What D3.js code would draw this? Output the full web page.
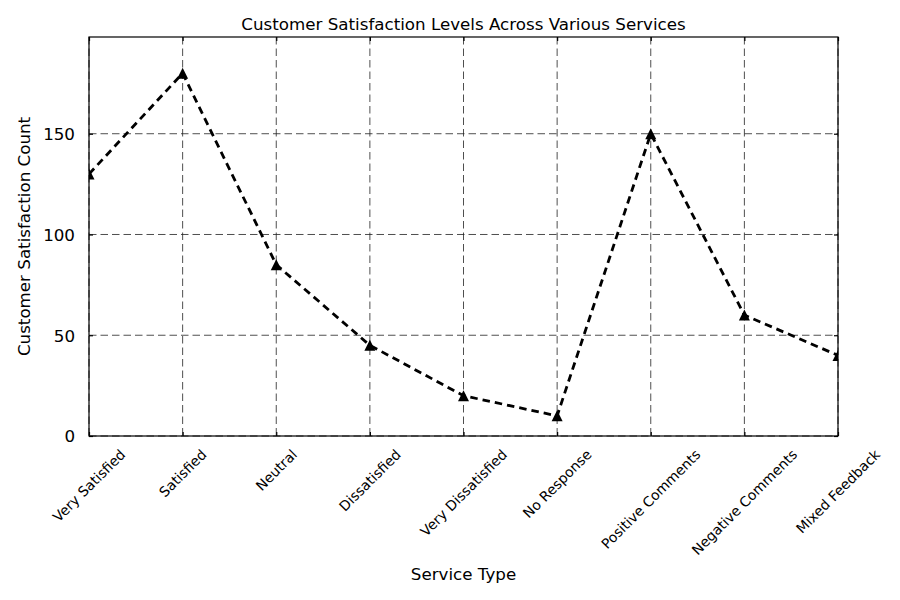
<!DOCTYPE html>
<html><head><meta charset="utf-8">
<script src="https://cdn.jsdelivr.net/npm/d3@7"></script>
<style>body{margin:0;background:#fff}svg{display:block}text{font-family:"DejaVu Sans",sans-serif;fill:#000}</style>
</head><body><svg id="c" width="900" height="600"></svg>
<script>
const categories = ["Very Satisfied","Satisfied","Neutral","Dissatisfied","Very Dissatisfied","No Response","Positive Comments","Negative Comments","Mixed Feedback"];
const counts = [130,180,85,45,20,10,150,60,40];
const yTicks = [0,50,100,150];
const yMax = 198;

const svg = d3.select("#c");
const m = {l:89, r:838, t:37, b:436};
const x = d3.scalePoint().domain(categories).range([m.l, m.r]).padding(0);
const y = d3.scaleLinear().domain([0, yMax]).range([m.b, m.t]);

svg.append("defs").append("clipPath").attr("id","clip")
  .append("rect").attr("x",m.l).attr("y",m.t).attr("width",m.r-m.l).attr("height",m.b-m.t);

// grid
const grid = svg.append("g").attr("stroke","#222").attr("stroke-width",0.8).attr("stroke-dasharray","7.5,4");
grid.selectAll(".gx").data(categories).join("line")
  .attr("x1",d=>x(d)).attr("x2",d=>x(d)).attr("y1",m.t).attr("y2",m.b);
grid.selectAll(".gy").data(yTicks).join("line")
  .attr("x1",m.l).attr("x2",m.r).attr("y1",d=>y(d)).attr("y2",d=>y(d));

// axes with inward ticks on all sides
const tl = 4;
const gL = svg.append("g").attr("transform",`translate(${m.l},0)`)
  .call(d3.axisLeft(y).tickValues(yTicks).tickSizeInner(-tl).tickSizeOuter(0).tickPadding(14));
const gR = svg.append("g").attr("transform",`translate(${m.r},0)`)
  .call(d3.axisRight(y).tickValues(yTicks).tickSizeInner(-tl).tickSizeOuter(0).tickFormat(""));
const gB = svg.append("g").attr("transform",`translate(0,${m.b})`)
  .call(d3.axisBottom(x).tickSizeInner(-tl).tickSizeOuter(0).tickFormat(""));
const gT = svg.append("g").attr("transform",`translate(0,${m.t})`)
  .call(d3.axisTop(x).tickSizeInner(-tl).tickSizeOuter(0).tickFormat(""));
[gL,gR,gB,gT].forEach(g=>{
  g.select(".domain").remove();
  g.selectAll(".tick line").attr("stroke","#000").attr("stroke-width",1.2);
});
gL.selectAll(".tick text").attr("font-size",16.7).attr("font-family","DejaVu Sans").attr("fill","#000").attr("dy","0.35em");

// frame
svg.append("rect").attr("x",m.l).attr("y",m.t).attr("width",m.r-m.l).attr("height",m.b-m.t)
  .attr("fill","none").attr("stroke","#000").attr("stroke-width",1.2);

// x tick labels, rotated 45, bbox centered on tick
const labG = svg.append("g");
const fs = 13.9;
categories.forEach(c=>{
  const t = labG.append("text").text(c).attr("font-size",fs).attr("text-anchor","middle").attr("dominant-baseline","central");
  const w = t.node().getComputedTextLength();
  const h = fs*1.0;
  const bh = (w+h)/Math.SQRT2;
  const cy = m.b + 11 + bh/2;
  t.attr("transform",`translate(${x(c)},${cy}) rotate(-45)`);
});

// line
const plot = svg.append("g").attr("clip-path","url(#clip)");
plot.append("path").datum(counts)
  .attr("fill","none").attr("stroke","#000").attr("stroke-width",2.8).attr("stroke-dasharray","7.5,5")
  .attr("d", d3.line().x((d,i)=>x(categories[i])).y(d=>y(d)));
const tri = {draw(ctx,size){const s=Math.sqrt(size)/2; ctx.moveTo(0,-s); ctx.lineTo(s,s); ctx.lineTo(-s,s); ctx.closePath();}};
plot.selectAll(".pt").data(counts).join("path")
  .attr("transform",(d,i)=>`translate(${x(categories[i])},${y(d)})`)
  .attr("d", d3.symbol().type(tri).size(121)).attr("fill","#000");

// titles
svg.append("text").attr("x",(m.l+m.r)/2).attr("y",30).attr("text-anchor","middle").attr("font-size",16.7).text("Customer Satisfaction Levels Across Various Services");
svg.append("text").attr("x",(m.l+m.r)/2).attr("y",580).attr("text-anchor","middle").attr("font-size",16.7).text("Service Type");
svg.append("text").attr("transform",`translate(30,${(m.t+m.b)/2}) rotate(-90)`).attr("text-anchor","middle").attr("font-size",16.7).text("Customer Satisfaction Count");
</script></body></html>
